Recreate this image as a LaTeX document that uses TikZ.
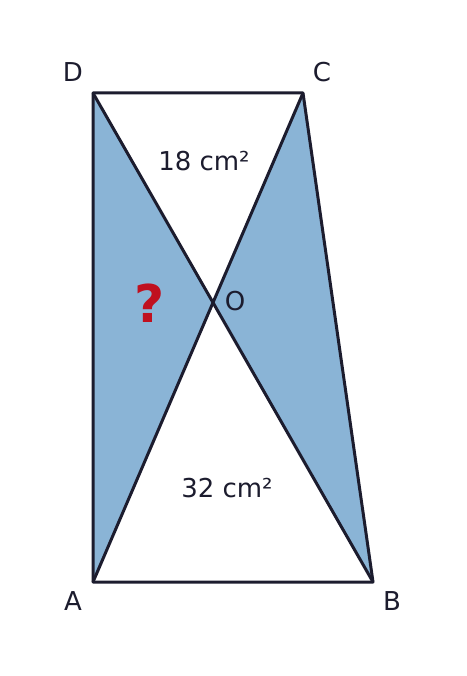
\documentclass[tikz,border=0pt]{standalone}
\usepackage{fontspec}
\setmainfont{DejaVu Sans}
\usetikzlibrary{intersections}

\definecolor{edgeink}{HTML}{1C1C2E}
\definecolor{fillblue}{HTML}{8AB4D6}
\definecolor{askred}{HTML}{C0101F}

\tikzset{
  edge/.style={draw=edgeink, line width=3pt, line join=round},
  vertex/.style={text=edgeink, font=\fontsize{26}{30}\selectfont, inner sep=0pt},
  area/.style={text=edgeink, font=\fontsize{26}{30}\selectfont, inner sep=0pt},
  ask/.style={text=askred, font=\fontsize{52}{56}\selectfont\bfseries, inner sep=0pt}
}

\begin{document}
\begin{tikzpicture}[x=1pt,y=-1pt]
    \useasboundingbox (0,0) rectangle (466,676);
    \coordinate (A) at (93,582);
    \coordinate (B) at (373,582);
    \coordinate (C) at (303,93);
    \coordinate (D) at (93,93);
    \path[name path=ac] (A) -- (C);
    \path[name path=bd] (B) -- (D);
    \path[name intersections={of=ac and bd, by=O}];
    % shaded triangles
    \fill[fillblue] (A) -- (O) -- (D) -- cycle;
    \fill[fillblue] (B) -- (O) -- (C) -- cycle;
    \draw[edge] (A) -- (B) -- (C) -- (D) -- cycle;
    \draw[edge] (A) -- (C);
    \draw[edge] (B) -- (D);
    % labels
    \node[vertex] (labD) at (73,72) {D};
    \node[vertex] (labC) at (322,72) {C};
    \node[vertex] (labA) at (73,601) {A};
    \node[vertex] (labB) at (392,601) {B};
    \node[vertex] (labO) at (235,301) {O};
    \node[area] (top) at (204,161) {18 cm²};
    \node[area] (bottom) at (227,488) {32 cm²};
    \node[ask] (unknown) at (150,303) {?};
\end{tikzpicture}
\end{document}
